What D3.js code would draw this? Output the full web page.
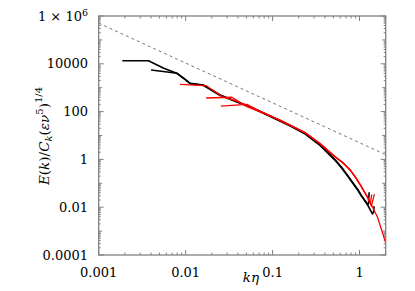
<!DOCTYPE html>
<html lang="en">
<head>
<meta charset="UTF-8">
<title>Energy spectrum</title>
<script src="https://d3js.org/d3.v7.min.js"></script>
<style>
  body { margin: 0; background: #fff; }
  .tick-label { font-size: 13px; fill: #000; }
  .axis-label { font-size: 13.5px; fill: #000; }
  .frame { fill: none; stroke: #808080; stroke-width: 1.3; }
  .tk { stroke: #808080; stroke-width: 1; }
</style>
</head>
<body>
<svg width="415" height="291"></svg>
<script>
// x tick labels and y tick labels
const xTickVals = [0.001, 0.01, 0.1, 1];
const xTickLabels = ["0.001", "0.01", "0.1", "1"];
const yTickVals = [1e-4, 1e-2, 1, 1e2, 1e4, 1e6];
const yTickLabels = ["0.0001", "0.01", "1", "100", "10000", "1e6"];

// k^(-5/3) reference line (end points)
const refLine = [[0.001, 5e5], [2, 1.575]];

// spectra [k eta, E(k)/...]
const blackA = [[0.00187, 13500], [0.00374, 13500], [0.0056, 6500], [0.0079, 4000], [0.0094, 2550],
  [0.0113, 1530], [0.016, 1300], [0.025, 495], [0.039, 259], [0.055, 160], [0.094, 65], [0.16, 26],
  [0.238, 12.1], [0.354, 4.0], [0.528, 0.94], [0.619, 0.48], [0.726, 0.22], [0.828, 0.113],
  [0.946, 0.058], [1.052, 0.031], [1.17, 0.018], [1.335, 0.0076], [1.408, 0.0052], [1.45, 0.0062],
  [1.47, 0.011]];
const blackB = [[0.0040, 5500], [0.0080, 4000], [0.0113, 1480], [0.016, 1250], [0.025, 470],
  [0.039, 250], [0.055, 155], [0.094, 62], [0.16, 25], [0.238, 11.4], [0.354, 3.75], [0.528, 0.88],
  [0.619, 0.45], [0.726, 0.205], [0.828, 0.105], [0.946, 0.054], [1.052, 0.029], [1.17, 0.017],
  [1.25, 0.0125], [1.27, 0.016], [1.29, 0.042]];
const red1 = [[0.0086, 1390], [0.0172, 1210], [0.0272, 400], [0.039, 265], [0.055, 165], [0.094, 67],
  [0.16, 26.8], [0.238, 13.0], [0.354, 4.5], [0.528, 1.25], [0.652, 0.70], [0.786, 0.35],
  [0.897, 0.18], [1.024, 0.085], [1.233, 0.0267], [1.37, 0.011], [1.48, 0.035]];
const red2 = [[0.0172, 371], [0.0341, 398], [0.0507, 160], [0.094, 66], [0.16, 26.5], [0.238, 12.8],
  [0.354, 4.4], [0.528, 1.23], [0.652, 0.69], [0.786, 0.345], [0.897, 0.177], [1.024, 0.084],
  [1.233, 0.0265], [1.30, 0.017], [1.335, 0.015], [1.38, 0.034]];
const red3 = [[0.0254, 171], [0.0507, 202], [0.072, 99], [0.1227, 44.5], [0.16, 26.8], [0.238, 13.0],
  [0.354, 4.5], [0.528, 1.25], [0.652, 0.70], [0.786, 0.35], [0.897, 0.18], [1.024, 0.085],
  [1.233, 0.0267], [1.408, 0.0102], [1.608, 0.0039], [2.04, 0.00026]];

const FONT = "'DejaVu Serif', 'Liberation Serif', serif";

const svg = d3.select("svg");
const margin = { left: 98.7, right: 385.7, top: 16, bottom: 255 };

const x = d3.scaleLog().domain([0.001, 2]).range([margin.left, margin.right]);
const y = d3.scaleLog().domain([1e-4, 1e6]).range([margin.bottom, margin.top]);

svg.append("clipPath").attr("id", "clip")
  .append("rect")
  .attr("x", margin.left).attr("y", margin.top)
  .attr("width", margin.right - margin.left).attr("height", margin.bottom - margin.top);

// minor + major ticks, inward, mirrored
const ticksG = svg.append("g");
const xMinor = [], yMinor = [];
for (let e = -3; e <= 0; e++) for (let m = 1; m <= 9; m++) {
  const v = m * Math.pow(10, e);
  if (v <= 2) xMinor.push(v);
}
for (let e = -4; e <= 6; e++) for (let m = 1; m <= 9; m++) {
  const v = m * Math.pow(10, e);
  if (v <= 1e6) yMinor.push(v);
}
xMinor.forEach(v => {
  const len = xTickVals.includes(v) ? 5 : 2.5;
  const px = x(v);
  ticksG.append("line").attr("class", "tk").attr("x1", px).attr("x2", px)
    .attr("y1", margin.bottom).attr("y2", margin.bottom - len);
  ticksG.append("line").attr("class", "tk").attr("x1", px).attr("x2", px)
    .attr("y1", margin.top).attr("y2", margin.top + len);
});
yMinor.forEach(v => {
  const len = yTickVals.includes(v) ? 5 : (v === Math.pow(10, Math.round(Math.log10(v))) ? 3.5 : 2);
  const py = y(v);
  ticksG.append("line").attr("class", "tk").attr("x1", margin.left).attr("x2", margin.left + len)
    .attr("y1", py).attr("y2", py);
  ticksG.append("line").attr("class", "tk").attr("x1", margin.right).attr("x2", margin.right - len)
    .attr("y1", py).attr("y2", py);
});

// tick labels
svg.selectAll(".xl").data(xTickVals).enter().append("text")
  .attr("class", "tick-label").attr("font-family", FONT)
  .attr("x", d => x(d)).attr("y", 276.5)
  .attr("text-anchor", "middle")
  .text((d, i) => xTickLabels[i]);

svg.selectAll(".yl").data(yTickVals).enter().append("text")
  .attr("class", "tick-label").attr("font-family", FONT)
  .attr("x", 88).attr("y", d => y(d)).attr("dy", "0.36em")
  .attr("text-anchor", "end")
  .each(function (d, i) {
    const t = d3.select(this);
    if (yTickLabels[i] === "1e6") {
      t.append("tspan").text("1 × 10");
      t.append("tspan").attr("dy", "-0.45em").attr("font-size", "9.5px").text("6");
    } else {
      t.text(yTickLabels[i]);
    }
  });

// lines
const line = d3.line().x(d => x(d[0])).y(d => y(d[1]));
const plot = svg.append("g").attr("clip-path", "url(#clip)");

plot.append("path").datum(refLine).attr("d", line)
  .attr("fill", "none").attr("stroke", "#777").attr("stroke-width", 1)
  .attr("stroke-dasharray", "3,3");

[blackA, blackB].forEach(s => plot.append("path").datum(s).attr("d", line)
  .attr("fill", "none").attr("stroke", "#000").attr("stroke-width", 1.6)
  .attr("stroke-linejoin", "round"));
[red1, red2, red3].forEach(s => plot.append("path").datum(s).attr("d", line)
  .attr("fill", "none").attr("stroke", "#ff0000").attr("stroke-width", 1.3)
  .attr("stroke-linejoin", "round"));

// frame
svg.append("rect").attr("class", "frame")
  .attr("x", margin.left).attr("y", margin.top)
  .attr("width", margin.right - margin.left).attr("height", margin.bottom - margin.top);

// axis titles
const xt = svg.append("text").attr("class", "axis-label").attr("font-family", FONT)
  .attr("x", 251).attr("y", 282).attr("text-anchor", "middle").attr("font-style", "italic");
xt.text("kη");

const yt = svg.append("text").attr("class", "axis-label").attr("font-family", FONT)
  .attr("transform", "translate(49,136) rotate(-90)")
  .attr("text-anchor", "middle");
yt.append("tspan").attr("font-style", "italic").text("E");
yt.append("tspan").text("(");
yt.append("tspan").attr("font-style", "italic").text("k");
yt.append("tspan").text(")/");
yt.append("tspan").attr("font-style", "italic").text("C");
yt.append("tspan").attr("font-style", "italic").attr("font-size", "10px").attr("dy", "3").text("k");
yt.append("tspan").attr("dy", "-3").text("(");
yt.append("tspan").attr("font-style", "italic").text("εν");
yt.append("tspan").attr("font-size", "10px").attr("dy", "-6").text("5");
yt.append("tspan").attr("dy", "6").text(")");
yt.append("tspan").attr("font-size", "10px").attr("dy", "-7").text("1/4");
</script>
</body>
</html>
